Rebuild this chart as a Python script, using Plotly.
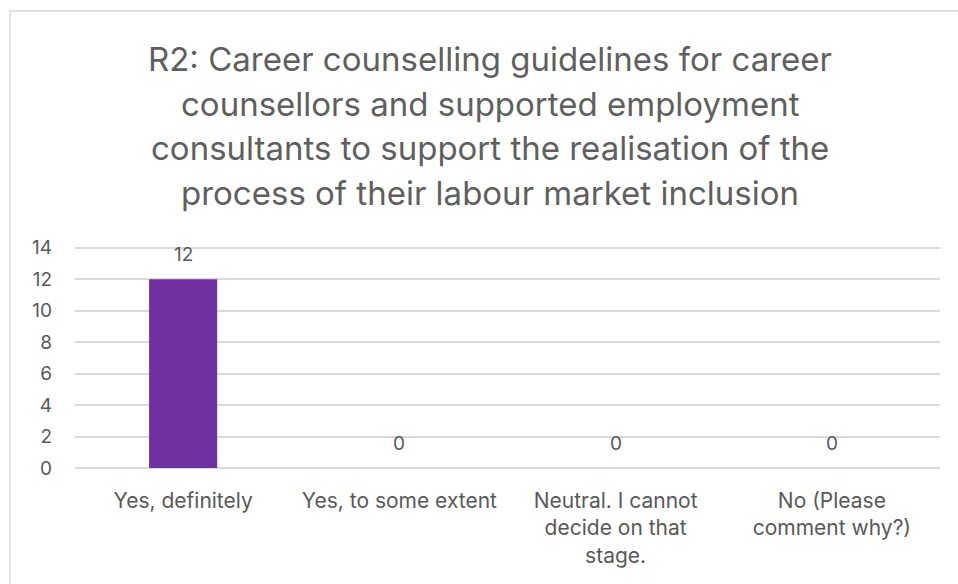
import plotly.graph_objects as go

# Survey responses for R2
categories = ["Yes, definitely", "Yes, to some extent",
              "Neutral. I cannot decide on that stage.", "No (Please comment why?)"]
category_labels = ["Yes, definitely", "Yes, to some extent",
                   "Neutral. I cannot<br>decide on that<br>stage.", "No (Please<br>comment why?)"]
counts = [12, 0, 0, 0]
y_ticks = [0, 2, 4, 6, 8, 10, 12, 14]
title_lines = [
    "R2: Career counselling guidelines for career",
    "counsellors and supported employment",
    "consultants to support the realisation of the",
    "process of their labour market inclusion",
]

FONT = "Inter, Open Sans, sans-serif"
TEXT = "#595959"
GRID = "#d9d9d9"

Y_MAX = 14.3            # a little headroom so the top gridline is drawn
PLOT_BOTTOM = 468       # pixel row of the x axis
PLOT_H = 220 * Y_MAX / 14
PLOT_LEFT, PLOT_W = 75, 865


def px_to_paper_y(py):
    return (PLOT_BOTTOM - py) / PLOT_H


def px_to_paper_x(px):
    return (px - PLOT_LEFT) / PLOT_W


fig = go.Figure()
fig.add_trace(go.Bar(
    x=categories, y=counts,
    marker=dict(color="#7030a0", line=dict(width=0)),
    hoverinfo="x+y",
))

# value labels above each bar
for c, v in zip(categories, counts):
    fig.add_annotation(x=c, y=v, text=str(v), showarrow=False,
                       yanchor="middle", yshift=25,
                       font=dict(family=FONT, size=19, color=TEXT))

# multi-line title, one annotation per line
for i, line in enumerate(title_lines):
    fig.add_annotation(xref="paper", yref="paper", x=px_to_paper_x(490),
                       y=px_to_paper_y(60 + 44.3 * i),
                       text=line, showarrow=False, xanchor="center", yanchor="middle",
                       font=dict(family=FONT, size=33, color="#5f5f5f"))

# chart frame
fig.add_shape(type="rect", xref="paper", yref="paper",
              x0=px_to_paper_x(10), y0=-1.0, x1=1.2, y1=px_to_paper_y(11.5),
              line=dict(color=GRID, width=1.5), fillcolor="rgba(0,0,0,0)", layer="below")

fig.update_layout(
    width=958, height=584,
    margin=dict(l=PLOT_LEFT, r=958 - PLOT_LEFT - PLOT_W,
                t=PLOT_BOTTOM - PLOT_H, b=584 - PLOT_BOTTOM),
    paper_bgcolor="white", plot_bgcolor="white",
    showlegend=False,
    bargap=0.685,
    font=dict(family=FONT, size=18, color=TEXT),
    xaxis=dict(
        tickmode="array", tickvals=categories, ticktext=category_labels,
        range=[-0.5, 3.5], showgrid=False, zeroline=False, showline=False,
        ticks="", ticklabelstandoff=18, tickfont=dict(family=FONT, size=21, color=TEXT),
    ),
    yaxis=dict(
        range=[0, Y_MAX], tickvals=y_ticks, showgrid=True, gridcolor=GRID, gridwidth=1.5,
        zeroline=True, zerolinecolor=GRID, zerolinewidth=1.5, showline=False,
        ticks="", ticklabelstandoff=22, tickfont=dict(family=FONT, size=19, color=TEXT),
    ),
)

fig.write_html("out.html")
